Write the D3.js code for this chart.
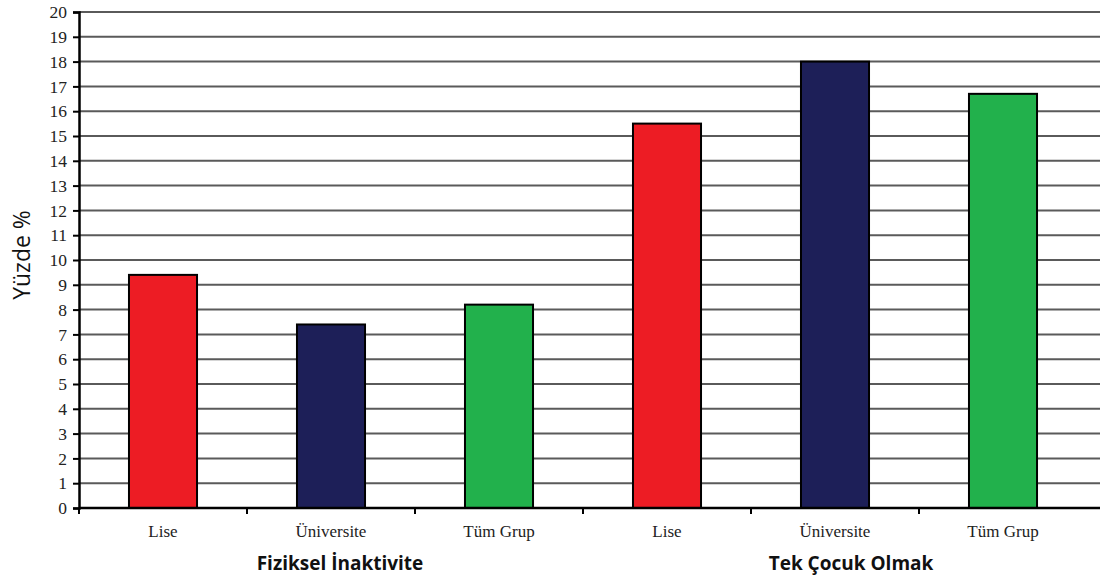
<!DOCTYPE html>
<html><head><meta charset="utf-8">
<script src="https://cdn.jsdelivr.net/npm/d3@7"></script>
<style>body{margin:0;background:#fff}svg{display:block}</style>
</head><body><svg id="c" width="1100" height="580"></svg>
<script>
const categories = ["Lise","Üniversite","Tüm Grup","Lise","Üniversite","Tüm Grup"];
const groups = ["Fiziksel İnaktivite","Tek Çocuk Olmak"];
const values = [9.4, 7.4, 8.2, 15.5, 18.0, 16.7];
const colors = ["#ed1c24","#1d1f58","#22b14c","#ed1c24","#1d1f58","#22b14c"];
const yTicks = d3.range(0, 21, 1);

const svg = d3.select("#c");
const mLeft = 79, mRight = 1087, mTop = 12, mBottom = 508;
const x = d3.scaleBand().domain(d3.range(categories.length)).range([mLeft, mRight]).paddingInner(0.595).paddingOuter(0.2975);
const xb = d3.scaleBand().domain(d3.range(categories.length)).range([mLeft, mRight]);
const y = d3.scaleLinear().domain([0, 20]).range([mBottom, mTop]);

// gridlines
svg.append("g").selectAll("line").data(yTicks.filter(d => d > 0)).join("line")
  .attr("x1", mLeft).attr("x2", 1100).attr("y1", d => y(d)).attr("y2", d => y(d))
  .attr("stroke", "#5a5a5a").attr("stroke-width", 2);

// bars
svg.append("g").selectAll("rect").data(values).join("rect")
  .attr("x", (d, i) => x(i)).attr("width", x.bandwidth())
  .attr("y", d => y(d)).attr("height", d => y(0) - y(d))
  .attr("fill", (d, i) => colors[i]).attr("stroke", "#000").attr("stroke-width", 2);

// y axis
const ya = svg.append("g").attr("transform", `translate(${mLeft},0)`)
  .call(d3.axisLeft(y).tickValues(yTicks).tickSize(6).tickPadding(6).tickFormat(d3.format("d")));
ya.select(".domain").attr("stroke", "#000").attr("stroke-width", 2.5);
ya.selectAll(".tick line").attr("stroke", "#000").attr("stroke-width", 2);
ya.selectAll("text").attr("font-family", "Liberation Serif, serif").attr("font-size", 17.5).attr("fill", "#222");

// x axis
const xa = svg.append("g").attr("transform", `translate(0,${mBottom})`);
xa.append("line").attr("x1", mLeft).attr("x2", 1100).attr("y1", 0).attr("y2", 0).attr("stroke", "#000").attr("stroke-width", 2.5);
xa.selectAll("line.tk").data(d3.range(categories.length)).join("line").attr("class", "tk")
  .attr("x1", i => mLeft + i * xb.step()).attr("x2", i => mLeft + i * xb.step())
  .attr("y1", 0).attr("y2", 6).attr("stroke", "#000").attr("stroke-width", 2);
xa.selectAll("text.cat").data(categories).join("text").attr("class", "cat")
  .attr("x", (d, i) => xb(i) + xb.bandwidth() / 2).attr("y", 29)
  .attr("text-anchor", "middle").attr("font-family", "Liberation Serif, serif").attr("font-size", 17).attr("fill", "#222")
  .text(d => d);

// group labels
svg.selectAll("text.grp").data(groups).join("text").attr("class", "grp")
  .attr("x", (d, i) => xb(i * 3 + 1) + xb.bandwidth() / 2 + (i === 0 ? 9 : 16)).attr("y", 570)
  .attr("text-anchor", "middle").attr("font-family", "Open Sans, DejaVu Sans, sans-serif").attr("font-weight", "bold")
  .attr("font-size", 19).attr("fill", "#111").text(d => d);

// y label
svg.append("text").attr("transform", "translate(30,255) rotate(-90)")
  .attr("text-anchor", "middle").attr("font-family", "Open Sans, DejaVu Sans, sans-serif").attr("font-size", 23).attr("fill", "#111")
  .text("Yüzde %");
</script></body></html>
